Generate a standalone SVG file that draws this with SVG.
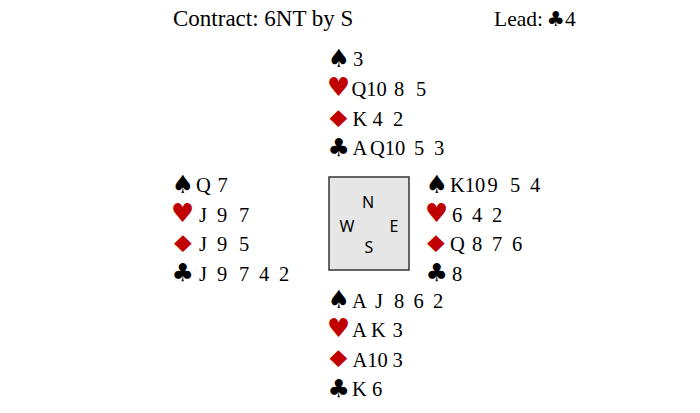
<svg xmlns="http://www.w3.org/2000/svg" width="700" height="413" viewBox="0 0 700 413">
<style>
.t{font-family:"Liberation Serif","Times New Roman",serif;font-size:20.5px;fill:#000}
.h{font-family:"Liberation Serif","Times New Roman",serif;font-size:23px;fill:#000}
.s{font-family:"DejaVu Sans",sans-serif;font-size:25px}
.hr{font-size:26px}
.dm{font-size:23px}
.bk{fill:#000}
.rd{fill:#c00000}
.cp{font-family:"Noto Sans","Open Sans",sans-serif;font-size:16px;fill:#000;text-anchor:middle}
</style>
<rect width="700" height="413" fill="#fff"/>
<g id="header">
<text class="h" x="173" y="26">Contract: 6NT by S</text>
<text class="h" y="26" style="font-size:21.5px"><tspan x="494">Lead: </tspan><tspan x="546.5" class="s bk" style="font-size:20.5px">♣</tspan><tspan x="565">4</tspan></text>
</g>
<g id="north">
<text class="s bk" x="327.5" y="67">♠</text>
<text class="t" y="66"><tspan x="353">3</tspan></text>
<text class="s hr rd" x="327" y="96">♥</text>
<text class="t" y="96"><tspan x="351.5">Q10</tspan> <tspan x="394">8</tspan> <tspan x="416">5</tspan></text>
<text class="s dm rd" transform="translate(324.5,126.5) scale(1.35,1)">♦</text>
<text class="t" y="126"><tspan x="352.5">K</tspan> <tspan x="372.5">4</tspan> <tspan x="393">2</tspan></text>
<text class="s bk" x="327.5" y="155.5">♣</text>
<text class="t" y="155"><tspan x="352.5">A</tspan><tspan x="370">Q10</tspan> <tspan x="414">5</tspan> <tspan x="434">3</tspan></text>
</g>
<g id="west">
<text class="s bk" x="171.5" y="193">♠</text>
<text class="t" y="192"><tspan x="196">Q</tspan> <tspan x="217.5">7</tspan></text>
<text class="s hr rd" x="171" y="221.5">♥</text>
<text class="t" y="221.5"><tspan x="199">J</tspan> <tspan x="217">9</tspan> <tspan x="239">7</tspan></text>
<text class="s dm rd" transform="translate(169,251.5) scale(1.35,1)">♦</text>
<text class="t" y="251"><tspan x="199">J</tspan> <tspan x="217">9</tspan> <tspan x="239">5</tspan></text>
<text class="s bk" x="171.5" y="280.5">♣</text>
<text class="t" y="280.5"><tspan x="199">J</tspan> <tspan x="217">9</tspan> <tspan x="239">7</tspan> <tspan x="259">4</tspan> <tspan x="279">2</tspan></text>
</g>
<g id="east">
<text class="s bk" x="425.5" y="193">♠</text>
<text class="t" y="192"><tspan x="450">K10</tspan> <tspan x="487.5">9</tspan> <tspan x="510">5</tspan> <tspan x="530">4</tspan></text>
<text class="s hr rd" x="425" y="221.5">♥</text>
<text class="t" y="221.5"><tspan x="452">6</tspan> <tspan x="472">4</tspan> <tspan x="492">2</tspan></text>
<text class="s dm rd" transform="translate(422,251.5) scale(1.35,1)">♦</text>
<text class="t" y="251"><tspan x="450">Q</tspan> <tspan x="472">8</tspan> <tspan x="492">7</tspan> <tspan x="512">6</tspan></text>
<text class="s bk" x="425.5" y="280.5">♣</text>
<text class="t" y="280.5"><tspan x="452">8</tspan></text>
</g>
<g id="table">
<rect x="329" y="177" width="80" height="93" fill="#e6e6e6" stroke="#333" stroke-width="1.5"/>
<text class="cp" x="368" y="207.5">N</text>
<text class="cp" x="347" y="231.5">W</text>
<text class="cp" x="394" y="231.5">E</text>
<text class="cp" x="369" y="253">S</text>
</g>
<g id="south">
<text class="s bk" x="327.5" y="308">♠</text>
<text class="t" y="307.5"><tspan x="352">A</tspan> <tspan x="375">J</tspan> <tspan x="394">8</tspan> <tspan x="413.5">6</tspan> <tspan x="433">2</tspan></text>
<text class="s hr rd" x="327" y="337">♥</text>
<text class="t" y="337"><tspan x="352">A</tspan> <tspan x="371">K</tspan> <tspan x="392.5">3</tspan></text>
<text class="s dm rd" transform="translate(324.5,367) scale(1.35,1)">♦</text>
<text class="t" y="366.5"><tspan x="352.5">A10</tspan> <tspan x="392.5">3</tspan></text>
<text class="s bk" x="327.5" y="396.5">♣</text>
<text class="t" y="396"><tspan x="352">K</tspan> <tspan x="372">6</tspan></text>
</g>
</svg>
